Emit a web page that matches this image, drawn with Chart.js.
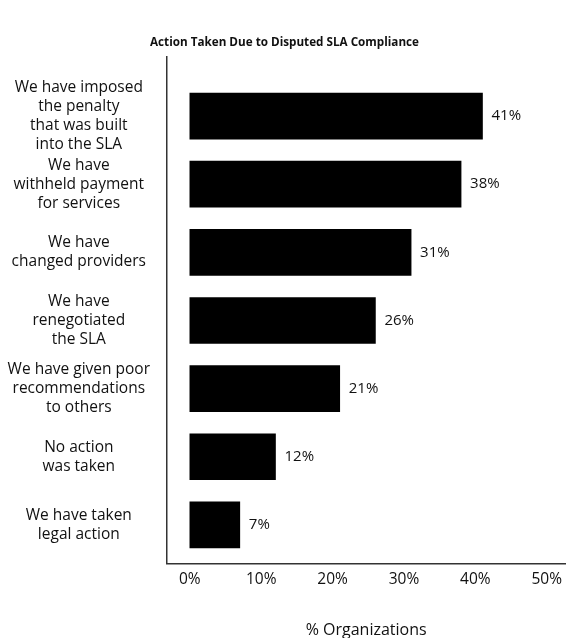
<!DOCTYPE html>
<html>
<head>
<meta charset="utf-8">
<script src="https://cdn.jsdelivr.net/npm/chart.js@4.4.1/dist/chart.umd.min.js"></script>
<style>
  html, body { margin: 0; padding: 0; background: #fff; }
  #wrap { width: 569px; height: 638px; }
</style>
</head>
<body>
<div id="wrap"><canvas id="c" width="569" height="638"></canvas></div>
<script>
const categories = [
  ["We have imposed", "the penalty", "that was built", "into the SLA"],
  ["We have", "withheld payment", "for services"],
  ["We have", "changed providers"],
  ["We have", "renegotiated", "the SLA"],
  ["We have given poor", "recommendations", "to others"],
  ["No action", "was taken"],
  ["We have taken", "legal action"]
];
const values = [41, 38, 31, 26, 21, 12, 7];
const xTicks = [0, 10, 20, 30, 40, 50];

const FONT = "'Open Sans', 'Noto Sans', sans-serif";
const TEXT = '#111';

const valueLabels = {
  id: 'valueLabels',
  afterDatasetsDraw(chart) {
    const ctx = chart.ctx;
    const meta = chart.getDatasetMeta(0);
    ctx.save();
    ctx.font = '15px ' + FONT;
    ctx.fillStyle = TEXT;
    ctx.textAlign = 'left';
    ctx.textBaseline = 'middle';
    meta.data.forEach((bar, i) => {
      ctx.fillText(values[i] + '%', bar.x + 9, bar.y);
    });
    ctx.restore();
  }
};

new Chart(document.getElementById('c'), {
  type: 'bar',
  data: {
    datasets: [{
      data: values.map((v, i) => ({ x: v, y: i })),
      backgroundColor: '#000',
      borderWidth: 0,
      barThickness: 46
    }]
  },
  options: {
    indexAxis: 'y',
    responsive: false,
    animation: false,
    devicePixelRatio: 1,
    layout: { padding: { left: 0, right: 0, top: 0, bottom: 0 } },
    plugins: {
      legend: { display: false },
      tooltip: { enabled: false },
      title: {
        display: true,
        text: 'Action Taken Due to Disputed SLA Compliance',
        color: TEXT,
        font: { family: FONT, size: 11.7, weight: 'bold', lineHeight: 1.2 },
        padding: { top: 36, bottom: 7 }
      }
    },
    scales: {
      x: {
        type: 'linear',
        offset: false,
        min: -3.2,
        max: 52.6,
        afterBuildTicks: s => { s.ticks = xTicks.map(v => ({ value: v })); },
        grid: { display: false, drawTicks: false },
        border: { display: true, color: '#333', width: 1.5 },
        ticks: {
          callback: v => v + '%',
          color: TEXT,
          font: { family: FONT, size: 15.5 },
          padding: 7,
          maxRotation: 0,
          autoSkip: false
        },
        title: {
          display: true,
          text: '% Organizations',
          color: TEXT,
          font: { family: FONT, size: 16, lineHeight: 1.0 },
          padding: { top: 26, bottom: 0 }
        }
      },
      y: {
        type: 'linear',
        offset: false,
        reverse: true,
        min: -0.866,
        max: 6.565,
        afterBuildTicks: s => { s.ticks = categories.map((c, i) => ({ value: i })); },
        afterFit: s => { s.width = 167; },
        grid: { display: false, drawTicks: false },
        border: { display: true, color: '#333', width: 1.5 },
        ticks: {
          callback: v => categories[v],
          color: TEXT,
          font: { family: FONT, size: 15.5, lineHeight: 1.23 },
          crossAlign: 'center',
          padding: 17,
          autoSkip: false
        }
      }
    }
  },
  plugins: [valueLabels]
});
</script>
</body>
</html>
